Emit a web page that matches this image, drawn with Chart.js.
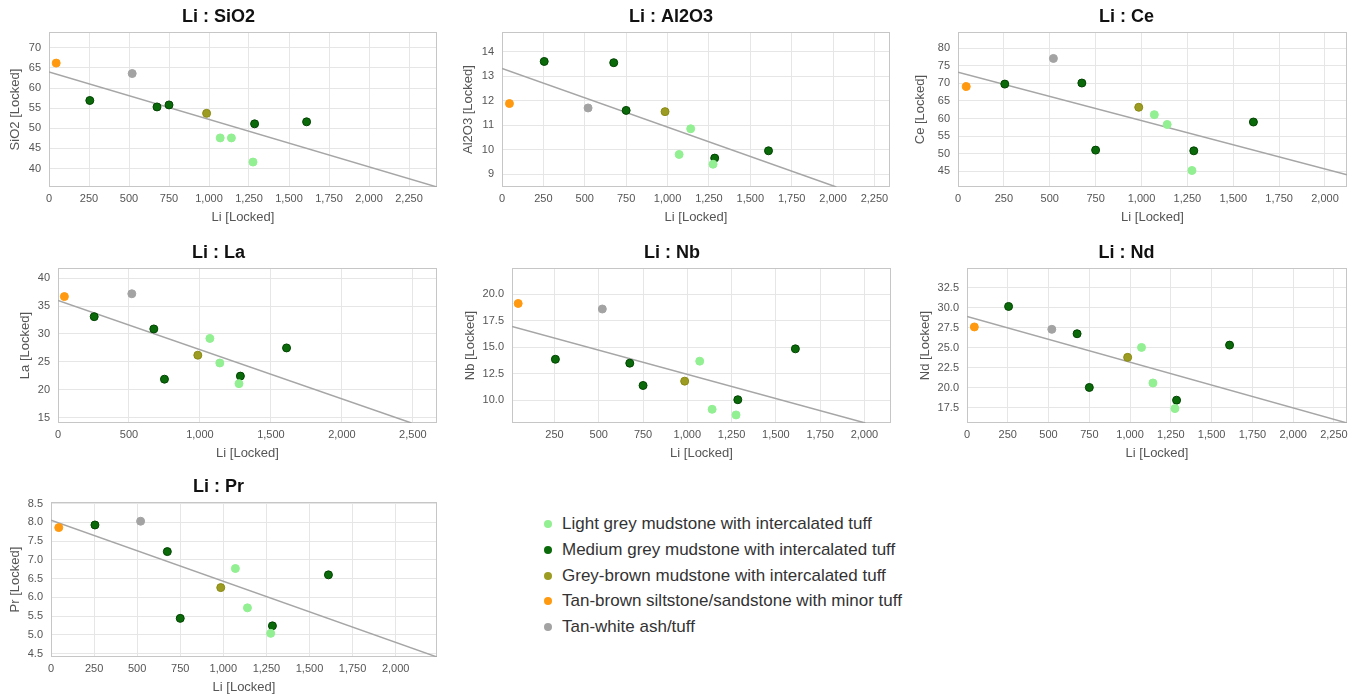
<!DOCTYPE html>
<html>
<head>
<meta charset="utf-8">
<title>Li cross plots</title>
<script src="https://cdn.jsdelivr.net/npm/chart.js@4.4.0/dist/chart.umd.min.js"></script>
<style>
  body { margin: 0; background: #fff; width: 1356px; height: 698px; overflow: hidden; position: relative; font-family: "Liberation Sans", Arial, sans-serif; }
  .panel { position: absolute; height: 228px; }
  #legend { position: absolute; left: 544px; top: 511px; }
  .item { height: 25.8px; line-height: 25.8px; font-size: 17px; color: #333; white-space: nowrap; }
  .dot { display: inline-block; width: 8px; height: 8px; border-radius: 50%; margin-right: 10px; vertical-align: 1px; }
</style>
</head>
<body>
<div id="legend"></div>
<script>
// Li value of each sample (same for every panel)
const li = [1070, 1140, 1275, 255, 675, 750, 1285, 1610, 985, 45, 520];
// lithology group of each sample
const lithology = [0, 0, 0, 1, 1, 1, 1, 1, 2, 3, 4];
const lithologyNames = [
  "Light grey mudstone with intercalated tuff",
  "Medium grey mudstone with intercalated tuff",
  "Grey-brown mudstone with intercalated tuff",
  "Tan-brown siltstone/sandstone with minor tuff",
  "Tan-white ash/tuff"
];
const lithologyColors = ["#92ef92", "#0a6a0a", "#9c9c22", "#ff9a10", "#a3a3a3"];
const lithologyBorders = ["#92ef92", "#024402", "#8a8a14", "#ff9a10", "#a3a3a3"];

// element values, same sample order as li
const sio2 = [47.6, 47.6, 41.6, 56.9, 55.3, 55.8, 51.1, 51.6, 53.7, 66.2, 63.6];
const al2o3 = [9.8, 10.85, 9.4, 13.6, 13.55, 11.6, 9.65, 9.95, 11.55, 11.88, 11.7];
const ce = [61.1, 58.3, 45.2, 69.8, 70.1, 51.0, 50.8, 59.0, 63.2, 69.1, 77.1];
const la = [29.2, 24.8, 21.1, 33.1, 30.9, 21.9, 22.45, 27.5, 26.2, 36.7, 37.2];
const nb = [13.69, 9.16, 8.63, 13.87, 13.5, 11.4, 10.06, 14.85, 11.81, 19.12, 18.6];
const nd = [25.04, 20.6, 17.4, 30.16, 26.75, 20.04, 18.45, 25.33, 23.8, 27.6, 27.3];
const pr = [6.77, 5.72, 5.04, 7.93, 7.22, 5.44, 5.24, 6.60, 6.26, 7.86, 8.03];

// fitted trend lines (start and end)
const sio2TrendX = [0, 2425], sio2TrendY = [64.0, 35.4];
const al2o3TrendX = [0, 2020], al2o3TrendY = [13.31, 8.47];
const ceTrendX = [0, 2120], ceTrendY = [73.2, 44.0];
const laTrendX = [0, 2490], laTrendY = [36.0, 14.05];
const nbTrendX = [10, 2005], nbTrendY = [16.95, 7.87];
const ndTrendX = [0, 2330], ndTrendY = [28.9, 15.6];
const prTrendX = [0, 2240], prTrendY = [8.06, 4.41];

const panels = [
  { name: "SiO2", vals: sio2, tx: sio2TrendX, ty: sio2TrendY, xMin: 0, xMax: 2425, xStep: 250, yMin: 35.4, yMax: 73.9, yStep: 5, dec: 0,
    left: 0, top: 0, width: 442, plotLeft: 49, plotRight: 437, yTitle: 15 },
  { name: "Al2O3", vals: al2o3, tx: al2o3TrendX, ty: al2o3TrendY, xMin: 0, xMax: 2344, xStep: 250, yMin: 8.47, yMax: 14.8, yStep: 1, dec: 0,
    left: 452, top: 0, width: 444, plotLeft: 50, plotRight: 438, yTitle: 16.7 },
  { name: "Ce", vals: ce, tx: ceTrendX, ty: ceTrendY, xMin: 0, xMax: 2120, xStep: 250, yMin: 40.5, yMax: 84.6, yStep: 5, dec: 0,
    left: 906, top: 0, width: 446, plotLeft: 52, plotRight: 441, yTitle: 14.7 },
  { name: "La", vals: la, tx: laTrendX, ty: laTrendY, xMin: 0, xMax: 2670, xStep: 500, yMin: 14.05, yMax: 41.8, yStep: 5, dec: 0,
    left: 0, top: 236, width: 442, plotLeft: 58, plotRight: 437, yTitle: 25 },
  { name: "Nb", vals: nb, tx: nbTrendX, ty: nbTrendY, xMin: 10, xMax: 2150, xStep: 250, yMin: 7.87, yMax: 22.45, yStep: 2.5, dec: 1,
    left: 452, top: 236, width: 444, plotLeft: 60, plotRight: 440, yTitle: 18 },
  { name: "Nd", vals: nd, tx: ndTrendX, ty: ndTrendY, xMin: 0, xMax: 2330, xStep: 250, yMin: 15.6, yMax: 34.95, yStep: 2.5, dec: 1,
    left: 906, top: 236, width: 446, plotLeft: 61, plotRight: 441, yTitle: 19.7 },
  { name: "Pr", vals: pr, tx: prTrendX, ty: prTrendY, xMin: 0, xMax: 2240, xStep: 250, yMin: 4.41, yMax: 8.54, yStep: 0.5, dec: 1,
    left: 0, top: 470, width: 442, plotLeft: 51, plotRight: 437, yTitle: 15 }
];

Chart.defaults.font.family = "'Liberation Sans', Arial, sans-serif";
Chart.defaults.animation = false;

const frame = {
  id: "frame",
  beforeDatasetsDraw(chart) {
    const a = chart.chartArea, c = chart.ctx;
    c.save();
    c.strokeStyle = "#c6c6c6";
    c.lineWidth = 1;
    c.strokeRect(Math.round(a.left) + 0.5, Math.round(a.top) + 0.5, Math.round(a.right - a.left) - 1, Math.round(a.bottom - a.top) - 1);
    c.restore();
  }
};

// ticks on every multiple of step inside the axis range
function onStep(step) {
  return (axis) => {
    const out = [];
    for (let k = Math.ceil(axis.min / step - 1e-9); k * step <= axis.max + 1e-9; k++) {
      out.push({ value: +(k * step).toFixed(6) });
    }
    axis.ticks = out;
  };
}

panels.forEach(p => {
  const box = document.createElement("div");
  box.className = "panel";
  box.style.left = p.left + "px";
  box.style.top = p.top + "px";
  box.style.width = p.width + "px";
  const cv = document.createElement("canvas");
  box.appendChild(cv);
  document.body.appendChild(box);

  const datasets = lithologyNames.map((n, g) => ({
    label: n,
    data: li.map((x, i) => ({ x: x, y: p.vals[i] })).filter((pt, i) => lithology[i] === g),
    backgroundColor: lithologyColors[g],
    borderColor: lithologyBorders[g],
    borderWidth: 1,
    pointRadius: 4,
    order: 0
  }));
  datasets.push({
    type: "line",
    label: "trend",
    data: p.tx.map((x, i) => ({ x: x, y: p.ty[i] })),
    borderColor: "#a6a6a6",
    borderWidth: 1.5,
    pointRadius: 0,
    fill: false,
    order: 1
  });

  new Chart(cv, {
    type: "scatter",
    data: { datasets: datasets },
    options: {
      responsive: true,
      maintainAspectRatio: false,
      layout: { padding: { left: 0, right: p.width - p.plotRight, top: 0, bottom: 0 } },
      plugins: {
        legend: { display: false },
        tooltip: { enabled: false },
        title: {
          display: true,
          text: "Li : " + p.name,
          color: "#111",
          font: { size: 18, weight: "bold" },
          padding: { top: 6, bottom: 4.5 }
        }
      },
      scales: {
        x: {
          type: "linear",
          min: p.xMin,
          max: p.xMax,
          afterBuildTicks: onStep(p.xStep),
          afterFit: (s) => { s.height = 41; s.paddingLeft = 0; s.paddingRight = 0; },
          grid: { color: "#e6e6e6", drawTicks: false },
          border: { display: false },
          ticks: {
            autoSkip: false,
            maxRotation: 0,
            padding: 5.5,
            color: "#555",
            font: { size: 11 },
            callback: (v) => v.toLocaleString("en-US")
          },
          title: { display: true, text: "Li [Locked]", color: "#555", font: { size: 13 }, padding: { top: 0, bottom: 3 } }
        },
        y: {
          type: "linear",
          min: p.yMin,
          max: p.yMax,
          afterBuildTicks: onStep(p.yStep),
          afterFit: (s) => { s.width = p.plotLeft; s.paddingTop = 0; s.paddingBottom = 0; },
          grid: { color: "#e6e6e6", drawTicks: false },
          border: { display: false },
          ticks: {
            autoSkip: false,
            padding: 8,
            color: "#555",
            font: { size: 11 },
            callback: (v) => v.toFixed(p.dec)
          },
          title: { display: true, text: p.name + " [Locked]", color: "#555", font: { size: 13 }, padding: { top: p.yTitle - 7.8, bottom: 0 } }
        }
      }
    },
    plugins: [frame]
  });
});

// legend
const legend = document.getElementById("legend");
lithologyNames.forEach((n, g) => {
  const row = document.createElement("div");
  row.className = "item";
  const dot = document.createElement("span");
  dot.className = "dot";
  dot.style.background = lithologyColors[g];
  row.appendChild(dot);
  row.appendChild(document.createTextNode(n));
  legend.appendChild(row);
});
</script>
</body>
</html>
